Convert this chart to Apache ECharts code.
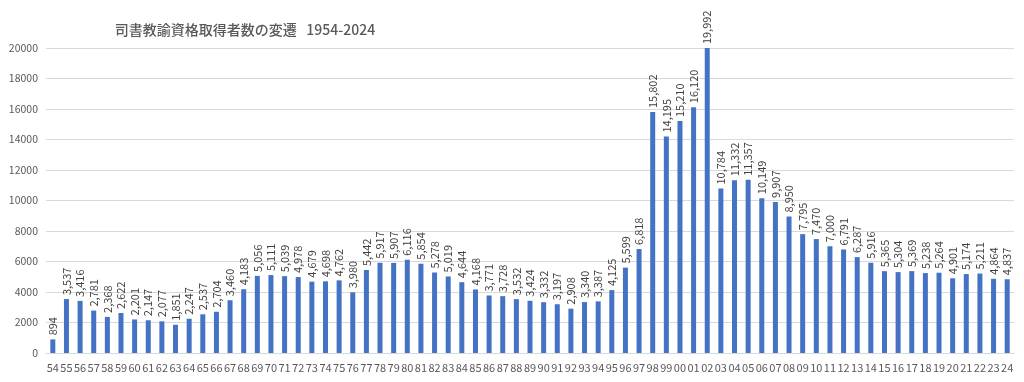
<!DOCTYPE html>
<html><head><meta charset="utf-8">
<script src="https://cdn.jsdelivr.net/npm/echarts@6/dist/echarts.min.js"></script>
<style>html,body{margin:0;padding:0;background:#fff}#c{width:1024px;height:382px}</style>
</head><body><div id="c"></div>
<script>
const categories = ["54","55","56","57","58","59","60","61","62","63","64","65","66","67","68","69","70","71","72","73","74","75","76","77","78","79","80","81","82","83","84","85","86","87","88","89","90","91","92","93","94","95","96","97","98","99","00","01","02","03","04","05","06","07","08","09","10","11","12","13","14","15","16","17","18","19","20","21","22","23","24"];
const values = [894,3537,3416,2781,2368,2622,2201,2147,2077,1851,2247,2537,2704,3460,4183,5056,5111,5039,4978,4679,4698,4762,3980,5442,5917,5907,6116,5854,5278,5019,4644,4168,3771,3728,3532,3424,3332,3197,2908,3340,3387,4125,5599,6818,15802,14195,15210,16120,19992,10784,11332,11357,10149,9907,8950,7795,7470,7000,6791,6287,5916,5365,5304,5369,5238,5264,4901,5174,5211,4864,4837];
const titleText = "司書教諭資格取得者数の変遷\u00a0\u00a0 1954-2024";
const chart = echarts.init(document.getElementById('c'), null, {renderer:'canvas'});
const font = '"Noto Sans CJK JP", "Noto Sans", sans-serif';
chart.setOption({
  animation:false,
  textStyle:{fontFamily:font},
  title:{text:titleText,left:240,top:18,textAlign:'center',
    textStyle:{fontSize:14,fontWeight:500,color:'#595959',fontFamily:font}},
  grid:{left:46,right:10,top:48,bottom:29,containLabel:false},
  xAxis:{type:'category',data:categories,
    axisLine:{lineStyle:{color:'#d9d9d9'}},axisTick:{show:false},
    axisLabel:{interval:0,color:'#595959',fontSize:11,margin:9,fontFamily:font}},
  yAxis:{type:'value',min:0,max:20000,interval:2000,
    axisLine:{show:false},axisTick:{show:false},
    splitLine:{lineStyle:{color:'#d9d9d9'}},
    axisLabel:{color:'#595959',fontSize:10.5,margin:8,fontFamily:font,formatter:v=>String(v)}},
  series:[{type:'bar',data:values,barWidth:5,
    itemStyle:{color:'#4472c4'},
    label:{show:true,position:'top',rotate:90,align:'left',verticalAlign:'middle',distance:4,
      color:'#404040',fontSize:11,fontFamily:font,
      formatter:p=>p.value.toLocaleString('en-US')}}]
});
</script></body></html>
